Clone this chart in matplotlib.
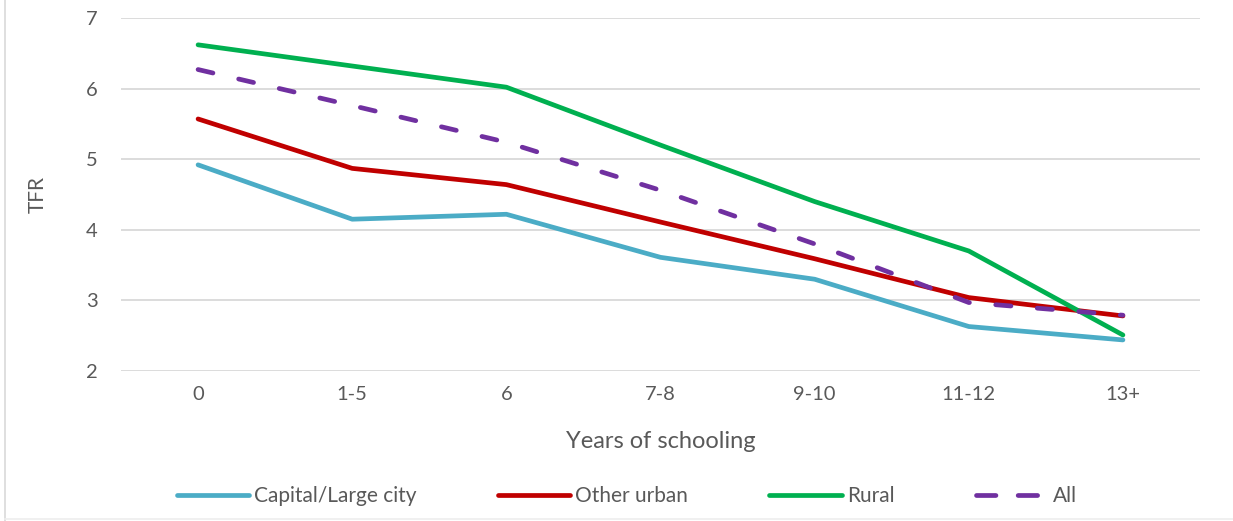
import matplotlib
matplotlib.use("Agg")
import matplotlib.pyplot as plt
from matplotlib.lines import Line2D

plt.rcParams['font.family'] = ['Lato', 'DejaVu Sans']
plt.rcParams['lines.scale_dashes'] = False

# TFR by years of schooling and place of residence
schooling = ['0', '1-5', '6', '7-8', '9-10', '11-12', '13+']
capital = [4.92, 4.15, 4.22, 3.61, 3.30, 2.63, 2.44]
other_urban = [5.57, 4.87, 4.64, 4.11, 3.59, 3.04, 2.78]
rural = [6.62, 6.32, 6.02, 5.20, 4.40, 3.70, 2.51]
all_areas = [6.27, 5.76, 5.24, 4.56, 3.80, 2.97, 2.79]

series_names = ['Capital/Large city', 'Other urban', 'Rural', 'All']
series_colors = ['#4BACC6', '#C00000', '#00B050', '#7030A0']

text_color = '#595959'
grid_color = '#d9d9d9'

fig = plt.figure(figsize=(12.33, 5.21), dpi=100)
ax = fig.add_axes([121 / 1233, 1 - 371 / 521, 1079 / 1233, 353 / 521])

x = list(range(len(schooling)))
lw = 3.4
for values, name, color in zip([capital, other_urban, rural, all_areas], series_names, series_colors):
    line, = ax.plot(x, values, color=color, lw=lw, label=name,
                    solid_capstyle='round', solid_joinstyle='round',
                    dash_capstyle='round', zorder=3)
    if name == 'All':
        line.set_dashes((11.0, 19.0))

ax.set_xlim(-0.5, len(schooling) - 0.5)
ax.set_ylim(2, 7)
ax.set_yticks(range(2, 8))
ax.set_xticks(x)
ax.set_xticklabels(schooling)
ax.grid(axis='y', color=grid_color, lw=1.3, zorder=0)
for s in ax.spines.values():
    s.set_visible(False)
ax.tick_params(axis='both', length=0, labelsize=14.5, colors=text_color)
ax.tick_params(axis='y', pad=17)
ax.tick_params(axis='x', pad=11)

ax.set_xlabel('Years of schooling', fontsize=17, color=text_color, labelpad=20)
ax.set_ylabel('TFR', fontsize=15, color=text_color, labelpad=27)

handles = [
    Line2D([], [], color=series_colors[0], lw=lw, solid_capstyle='round'),
    Line2D([], [], color=series_colors[1], lw=lw, solid_capstyle='round'),
    Line2D([], [], color=series_colors[2], lw=lw, solid_capstyle='round'),
    Line2D([], [], color=series_colors[3], lw=lw, dash_capstyle='round', dashes=(14, 16)),
]
fig.legend(handles, series_names, loc='center', ncol=4,
           bbox_to_anchor=(627 / 1233, 1 - 496 / 521), frameon=False,
           fontsize=15, labelcolor=text_color, handlelength=3.46,
           handletextpad=0.25, columnspacing=3.9)

# thin border of the chart area
fig.add_artist(Line2D([5 / 1233, 5 / 1233], [0, 1], color='#d9d9d9', lw=1.2))
fig.add_artist(Line2D([5 / 1233, 1], [2 / 521, 2 / 521], color='#eeeeee', lw=1.2))

fig.savefig('out.png', dpi=100)
